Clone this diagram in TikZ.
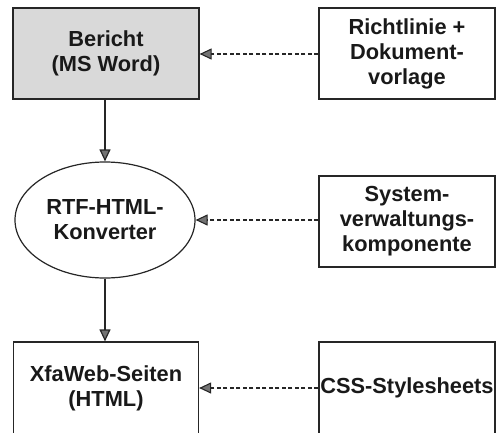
\documentclass[tikz,border=0pt]{standalone}
\usepackage{fontspec}
\setmainfont{Liberation Sans}
\usetikzlibrary{arrows.meta,shapes.geometric}
\begin{document}
\begin{tikzpicture}[x=1pt,y=-1pt,
  lbl/.style={font=\fontsize{21.8}{25}\selectfont\bfseries,align=center,
    text=black!90,line width=1.2pt,draw=black!85,inner sep=0pt},
  rectbox/.style={lbl,rectangle},
  ovalbox/.style={lbl,ellipse},
  tip/.style={-{Triangle[length=12pt,width=11pt,fill=black!55]}},
  flow/.style={tip,line width=1.2pt,draw=black!85},
  dep/.style={tip,line width=1.1pt,draw=black!85,dash pattern=on 4pt off 2.5pt}]
\useasboundingbox (0,0) rectangle (496,432);
\clip (0,0) rectangle (496,432);

% left column: document, converter, web pages
\node[rectbox,fill=gray!30,minimum width=186pt,minimum height=91pt] (bericht) at (106,53.5) {Bericht\\(MS Word)};
\node[ovalbox,minimum width=180pt,minimum height=116pt] (konv) at (105,220) {RTF-HTML-\\Konverter};
\node[rectbox,minimum width=185pt,minimum height=92pt] (xfa) at (106,388) {XfaWeb-Seiten\\(HTML)};

% right column: inputs
\node[rectbox,minimum width=176pt,minimum height=91pt] (richt) at (407,53.5) {Richtlinie +\\Dokument-\\vorlage};
\node[rectbox,minimum width=176pt,minimum height=91pt] (sys) at (407,221.5) {System-\\verwaltungs-\\komponente};
\node[rectbox,minimum width=176pt,minimum height=92pt] (css) at (407,388) {CSS-Stylesheets};

% main flow
\draw[flow] (bericht.south -| konv.north) -- (konv.north);
\draw[flow] (konv.south) -- (konv.south |- xfa.north);

% dependencies
\draw[dep] (richt.west |- 0,54) -- (bericht.east |- 0,54);
\draw[dep] (sys.west |- konv.east) -- (konv.east);
\draw[dep] (css.west) -- (xfa.east);
\end{tikzpicture}
\end{document}
